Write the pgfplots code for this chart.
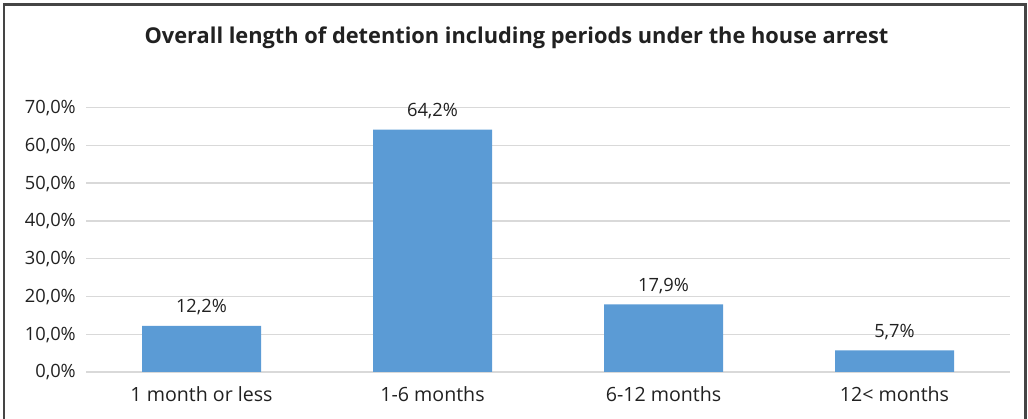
\documentclass[border=0pt]{standalone}
\usepackage{pgfplots}
\pgfplotsset{compat=1.18}
\usepackage{fontspec}
\setmainfont{Open Sans}
\definecolor{barblue}{HTML}{5B9BD5}
\definecolor{gridgray}{HTML}{D9D9D9}
\definecolor{framegray}{HTML}{454545}
\begin{document}
\begin{tikzpicture}
\path[use as bounding box] (0pt,0pt) rectangle (1028pt,419pt);
\draw[line width=2.2pt, color=framegray] (4pt,-20pt) -- (4pt,414.5pt) -- (1025.5pt,414.5pt) -- (1025.5pt,-20pt);
\node[anchor=base, font=\fontsize{21.8}{26}\selectfont\bfseries, text=black!87] at (516.5pt,375.7pt) {Overall length of detention including periods under the house arrest};
\begin{axis}[
  at={(86pt,47pt)}, anchor=south west,
  scale only axis, width=924pt, height=264.4pt,
  xmin=-0.5, xmax=3.5, ymin=0, ymax=70,
  axis line style={draw=none},
  major tick length=0pt,
  ymajorgrids, grid style={color=gridgray, line width=1.4pt},
  ytick={0,10,...,70},
  yticklabels={{0,0\%},{10,0\%},{20,0\%},{30,0\%},{40,0\%},{50,0\%},{60,0\%},{70,0\%}},
  yticklabel style={anchor=base east, inner sep=0pt, xshift=-10pt, yshift=-6pt, font=\fontsize{18.3}{22}\selectfont, text=black!87},
  xtick={0,1,2,3},
  xticklabels={1 month or less,1-6 months,6-12 months,12< months},
  xticklabel style={anchor=base, inner sep=0pt, yshift=-29.7pt, font=\fontsize{19.6}{23}\selectfont, text=black!87},
  ybar, bar width=119pt, bar shift=0pt,
  point meta=explicit symbolic,
  nodes near coords,
  nodes near coords style={anchor=base, inner sep=0pt, yshift=13pt, font=\fontsize{18.3}{22}\selectfont, text=black!87},
  clip=false,
]
\addplot[fill=barblue, draw=none] coordinates {(0,12.2) [12,2\%] (1,64.2) [64,2\%] (2,17.9) [17,9\%] (3,5.7) [5,7\%]};
\end{axis}
\end{tikzpicture}
\end{document}
